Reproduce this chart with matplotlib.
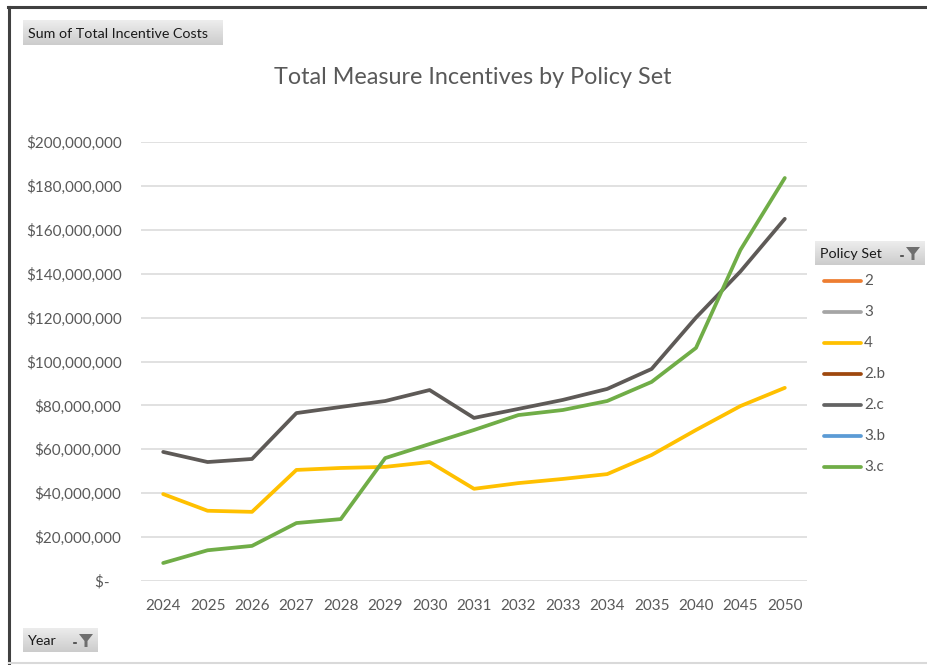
import numpy as np
import matplotlib
matplotlib.use("Agg")
import matplotlib.pyplot as plt
from matplotlib.lines import Line2D
from matplotlib.patches import Polygon
from matplotlib.ticker import FuncFormatter

plt.rcParams['font.family'] = ['Lato', 'DejaVu Sans']

years = ["2024", "2025", "2026", "2027", "2028", "2029", "2030", "2031",
         "2032", "2033", "2034", "2035", "2040", "2045", "2050"]

# Total incentive costs by policy set (dollars); empty sets have no rows
policy_sets = ["2", "3", "4", "2.b", "2.c", "3.b", "3.c"]
set_2 = []
set_3 = []
set_4 = [39.6e6, 32.0e6, 31.5e6, 50.6e6, 51.5e6, 52.0e6, 54.2e6, 42.0e6,
         44.6e6, 46.5e6, 48.7e6, 57.4e6, 68.8e6, 79.7e6, 88.0e6]
set_2b = []
set_2c = [58.8e6, 54.2e6, 55.6e6, 76.5e6, 79.3e6, 82.0e6, 87.0e6, 74.3e6,
          78.4e6, 82.5e6, 87.5e6, 96.6e6, 120.0e6, 141.0e6, 165.0e6]
set_3b = []
set_3c = [8.2e6, 14.0e6, 16.0e6, 26.4e6, 28.2e6, 56.0e6, 62.4e6, 68.8e6,
          75.6e6, 77.9e6, 82.0e6, 90.7e6, 106.2e6, 150.8e6, 183.6e6]

series = [set_2, set_3, set_4, set_2b, set_2c, set_3b, set_3c]
colors = ["#ED7D31", "#A5A5A5", "#FFC000", "#9E480E", "#5E5A57", "#5B9BD5", "#70AD47"]
legend_colors = ["#ED7D31", "#A5A5A5", "#FFC000", "#9E480E", "#636363", "#5B9BD5", "#70AD47"]

W, H = 927, 665
fig = plt.figure(figsize=(W / 100, H / 100), dpi=100)
fig.patch.set_facecolor("white")


def fx(px):
    return px / W


def fy(py):
    return 1 - py / H


# chart frame
fig.add_artist(Line2D([fx(8), fx(927)], [fy(7), fy(7)], color="#404040", lw=2.2))
fig.add_artist(Line2D([fx(9), fx(9)], [fy(7), fy(665)], color="#404040", lw=2.2))
fig.add_artist(Line2D([fx(9), fx(927)], [fy(663), fy(663)], color="#d9d9d9", lw=1.5))

# plot area
ax = fig.add_axes([fx(141), fy(581), fx(807) - fx(141), fy(142) - fy(581)])
ax.set_facecolor("none")
x = np.arange(len(years))
for vals, c in zip(series, colors):
    if len(vals):
        ax.plot(x[:len(vals)], vals, color=c, lw=2.7, solid_capstyle="round",
                solid_joinstyle="round", zorder=3)

ax.set_xlim(-0.5, len(years) - 0.5)
ax.set_ylim(0, 200e6)
ax.set_yticks(np.arange(0, 200e6 + 1, 20e6))
ax.yaxis.set_major_formatter(FuncFormatter(lambda v, p: "$-   " if v == 0 else f"${v:,.0f}"))
ax.set_xticks(x)
ax.set_xticklabels(years)
ax.grid(axis="y", color="#d9d9d9", lw=1.1)
ax.set_axisbelow(True)
for s in ax.spines.values():
    s.set_visible(False)
ax.tick_params(axis="both", length=0, labelsize=11, labelcolor="#595959")
ax.tick_params(axis="y", pad=14)
ax.tick_params(axis="x", pad=13)

fig.text(fx(473), fy(77), "Total Measure Incentives by Policy Set", ha="center", va="center",
         fontsize=16.8, color="#595959")


def button(x0, y0, x1, y1, label, funnel=False):
    bax = fig.add_axes([fx(x0), fy(y1), fx(x1) - fx(x0), fy(y0) - fy(y1)])
    grad = np.linspace(0.93, 0.80, 50).reshape(-1, 1)
    bax.imshow(np.dstack([grad, grad, grad]), aspect="auto", extent=[0, 1, 0, 1])
    bax.set_xlim(0, 1)
    bax.set_ylim(0, 1)
    bax.axis("off")
    fig.text(fx(x0 + 5), fy((y0 + y1) / 2 + 1), label, ha="left", va="center",
             fontsize=10.3, color="#1a1a1a")
    if funnel:
        cx = x1 - 12
        cy = (y0 + y1) / 2
        tri = [(fx(cx - 7), fy(cy - 6)), (fx(cx + 7), fy(cy - 6)), (fx(cx + 1.5), fy(cy + 1)),
               (fx(cx + 1.5), fy(cy + 7)), (fx(cx - 1.5), fy(cy + 7)), (fx(cx - 1.5), fy(cy + 1))]
        fig.add_artist(Polygon(tri, closed=True, transform=fig.transFigure,
                               facecolor="#6e6e6e", edgecolor="none"))
        fig.add_artist(Line2D([fx(cx - 12), fx(cx - 10)], [fy(cy + 3), fy(cy + 3)],
                              color="#404040", lw=1.2))


button(23, 20, 223, 45, "Sum of Total Incentive Costs")
button(23, 628, 98, 652, "Year", funnel=True)
button(815, 241, 925, 265, "Policy Set", funnel=True)

# legend entries
for i, (name, c) in enumerate(zip(policy_sets, legend_colors)):
    yy = 281 + i * 31
    fig.add_artist(Line2D([fx(824), fx(861)], [fy(yy), fy(yy)], color=c, lw=2.7,
                          solid_capstyle="round"))
    fig.text(fx(864), fy(yy), name, ha="left", va="center", fontsize=11, color="#595959")

fig.savefig("out.png", dpi=100, facecolor="white")
